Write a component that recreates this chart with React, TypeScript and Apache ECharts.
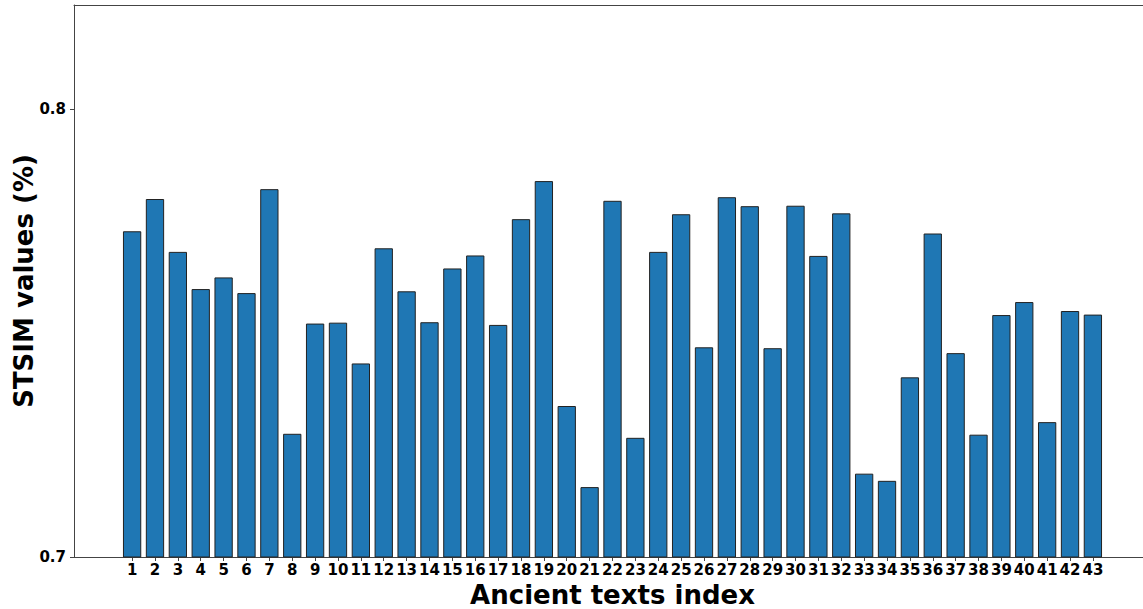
import React, { useEffect, useRef } from "react";
import * as echarts from "echarts";

const indices: number[] = Array.from({ length: 43 }, (_, i) => i + 1);
const stsimValues: number[] = [
  0.7727, 0.7799, 0.7681, 0.7598, 0.7624, 0.7589, 0.7821, 0.7275, 0.7521, 0.7523,
  0.7432, 0.7689, 0.7593, 0.7524, 0.7644, 0.7673, 0.7518, 0.7754, 0.7839, 0.7337,
  0.7156, 0.7795, 0.7266, 0.7681, 0.7765, 0.7468, 0.7803, 0.7783, 0.7466, 0.7784,
  0.7672, 0.7767, 0.7186, 0.7170, 0.7401, 0.7722, 0.7455, 0.7273, 0.7540, 0.7569,
  0.7301, 0.7549, 0.7541,
];
const yTickValues: number[] = [0.7, 0.8];

const FONT = "DejaVu Sans";
const SPINE = "#444";

export default function App() {
  const ref = useRef<HTMLDivElement>(null);
  useEffect(() => {
    if (!ref.current) return;
    const chart = echarts.init(ref.current, undefined, { renderer: "svg" });
    chart.setOption({
      animation: false,
      backgroundColor: "#ffffff",
      grid: {
        left: 74,
        top: 5,
        right: -8,
        bottom: 52,
        show: false,
        outerBoundsMode: "none",
        containLabel: false,
      },
      xAxis: [
        {
          type: "value",
          position: "bottom",
          min: -1.54,
          max: 45.54,
          name: "Ancient texts index",
          nameLocation: "middle",
          nameGap: 21,
          nameTextStyle: { fontFamily: FONT, fontWeight: "bold", fontSize: 26, color: "#000" },
          axisLine: { show: true, onZero: false, lineStyle: { color: SPINE, width: 1 } },
          splitLine: { show: false },
          axisTick: { show: true, customValues: indices, length: 4, lineStyle: { color: SPINE } },
          axisLabel: {
            customValues: indices,
            fontFamily: FONT,
            fontWeight: "bold",
            fontSize: 15,
            color: "#000",
            margin: 5,
            formatter: (v: number) => String(Math.round(v)),
          },
        },
        {
          type: "value",
          position: "top",
          min: -1.54,
          max: 45.54,
          axisLine: { show: true, onZero: false, lineStyle: { color: SPINE, width: 1 } },
          axisTick: { show: false },
          axisLabel: { show: false },
          splitLine: { show: false },
        },
      ],
      yAxis: {
        type: "value",
        position: "left",
        min: 0.7,
        max: 0.8232,
        name: "STSIM values (%)",
        nameLocation: "middle",
        nameGap: 37,
        nameMoveOverlap: false,
        nameTextStyle: { fontFamily: FONT, fontWeight: "bold", fontSize: 26, color: "#000" },
        axisLine: { show: true, onZero: false, lineStyle: { color: SPINE, width: 1 } },
        splitLine: { show: false },
        axisTick: { show: true, customValues: yTickValues, length: 4, lineStyle: { color: SPINE } },
        axisLabel: {
          customValues: yTickValues,
          fontFamily: FONT,
          fontWeight: "bold",
          fontSize: 15,
          color: "#000",
          margin: 8,
          formatter: (v: number) => v.toFixed(1),
        },
      },
      series: [
        {
          type: "bar",
          xAxisIndex: 0,
          data: indices.map((x, i) => [x, stsimValues[i]]),
          barWidth: "80%",
          clip: true,
          itemStyle: { color: "#1f77b4", borderColor: "#222", borderWidth: 1 },
        },
      ],
    });
    return () => chart.dispose();
  }, []);
  return (
    <div
      ref={ref}
      style={{ position: "fixed", left: 0, top: 0, width: 1143, height: 609 }}
    />
  );
}
